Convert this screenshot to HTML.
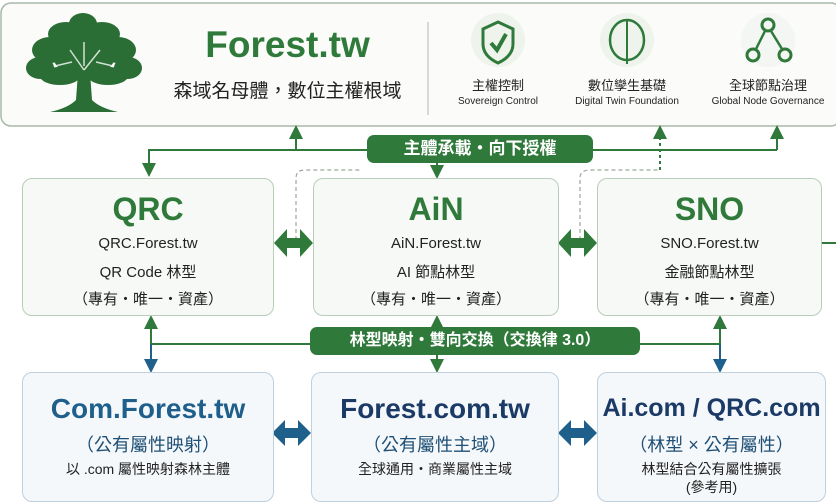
<!DOCTYPE html>
<html><head><meta charset="utf-8"><style>
*{margin:0;padding:0;box-sizing:border-box}
body{width:836px;height:495px;overflow:hidden;background:#fff;font-family:"Liberation Sans","Noto Sans CJK TC",sans-serif;position:relative}
.a{position:absolute}
.box{position:absolute;border-radius:10px}
.g{border:1.5px solid #b9cdb9;background:#f6f9f5}
.b{border:1.5px solid #bfd0de;background:#f5f8fb}
.c{position:absolute;width:100%;text-align:center;left:0}
.banner{position:absolute;background:#2f7a3a;color:#fff;border-radius:7px;text-align:center;font-weight:bold}
</style></head><body>
<svg class="a" style="left:0;top:0" width="836" height="495">
<defs>
<marker id="ag" markerWidth="7" markerHeight="7" refX="3.5" refY="3.5" orient="auto"><path d="M0,0L7,3.5L0,7z" fill="#2f7a3a"/></marker>
<marker id="ab" markerWidth="7" markerHeight="7" refX="3.5" refY="3.5" orient="auto"><path d="M0,0L7,3.5L0,7z" fill="#1f5f8b"/></marker>
</defs>
<rect x="1" y="3" width="840" height="123" rx="10" fill="#fbfcfa" stroke="#a8b8a8" stroke-width="1.5"/>
<line x1="428" y1="22" x2="428" y2="115" stroke="#c8d0c8" stroke-width="1.5"/>
<!-- tree -->
<g fill="#2a6e36">
<ellipse cx="83" cy="24" rx="14" ry="11"/>
<ellipse cx="66" cy="34" rx="18" ry="12"/>
<ellipse cx="102" cy="34" rx="18" ry="12"/>
<ellipse cx="50" cy="50" rx="18" ry="13"/>
<ellipse cx="118" cy="50" rx="18" ry="13"/>
<ellipse cx="40" cy="68" rx="14" ry="11"/>
<ellipse cx="128" cy="68" rx="14" ry="11"/>
<ellipse cx="84" cy="52" rx="32" ry="26"/>
<ellipse cx="60" cy="76" rx="20" ry="9"/>
<ellipse cx="108" cy="76" rx="20" ry="9"/>
<path d="M78,72 L90,72 L92,100 Q100,108 118,112 L50,112 Q68,108 76,100z"/>
</g>
<g stroke="#fbfcfa" stroke-width="1.5" fill="none" opacity="0.8">
<path d="M84,70 L70,50 M84,70 L100,50 M84,66 L84,42 M72,62 L55,66 M96,62 L113,66"/>
</g>
<!-- icons -->
<circle cx="498" cy="40" r="27" fill="#eef3ec"/>
<path d="M498,22 L513,29 L513,44 Q513,56 498,63 Q483,56 483,44 L483,29z" fill="none" stroke="#2f7a3a" stroke-width="3"/>
<path d="M491,43 L497,50 L506,34" fill="none" stroke="#2f7a3a" stroke-width="4"/>
<circle cx="627" cy="40" r="27" fill="#eef3ec"/>
<ellipse cx="627" cy="40" rx="17" ry="20" fill="none" stroke="#2f7a3a" stroke-width="2.5"/>
<line x1="627" y1="20" x2="627" y2="64" stroke="#2f7a3a" stroke-width="2"/>
<circle cx="768" cy="40" r="27" fill="#f3f6f2"/>
<circle cx="768" cy="25" r="6" fill="none" stroke="#2f7a3a" stroke-width="3"/>
<circle cx="753" cy="55" r="6" fill="none" stroke="#2f7a3a" stroke-width="3"/>
<circle cx="785" cy="55" r="6" fill="none" stroke="#2f7a3a" stroke-width="3"/>
<path d="M765,31 L756,49 M771,31 L782,49" stroke="#2f7a3a" stroke-width="2.5"/>
<!-- connectors top -->
<g stroke="#2f7a3a" stroke-width="2" fill="none">
<polyline points="149,170 149,150 777,150"/>
<line x1="296" y1="150" x2="296" y2="132" marker-end="url(#ag)"/>
<line x1="777" y1="150" x2="777" y2="132" marker-end="url(#ag)"/>
<line x1="149" y1="150" x2="149" y2="170" marker-end="url(#ag)"/>
<line x1="437" y1="163" x2="437" y2="172" marker-end="url(#ag)"/>
<line x1="660" y1="170" x2="660" y2="132" stroke-dasharray="3,3" marker-end="url(#ag)"/>
<path d="M296,240 L296,178 Q296,170 305,170 L360,170" stroke-dasharray="4,3" stroke="#9aa89a" stroke-width="1.2"/>
<path d="M580,240 L580,178 Q580,170 590,170 L660,170" stroke-dasharray="4,3" stroke="#9aa89a" stroke-width="1.2"/>
<line x1="822" y1="243" x2="836" y2="243"/>
<!-- middle connectors -->
<line x1="151" y1="344" x2="720" y2="344"/>
<line x1="151" y1="344" x2="151" y2="322" marker-end="url(#ag)"/>
<line x1="437" y1="344" x2="437" y2="322" marker-end="url(#ag)"/>
<line x1="720" y1="344" x2="720" y2="322" marker-end="url(#ag)"/>
<line x1="437" y1="344" x2="437" y2="366" marker-end="url(#ag)"/>
</g>
<g stroke="#1f5f8b" stroke-width="2">
<line x1="151" y1="344" x2="151" y2="366" marker-end="url(#ab)"/>
<line x1="720" y1="344" x2="720" y2="366" marker-end="url(#ab)"/>
</g>
<!-- double arrows -->
<g fill="#2f7a3a">
<path d="M274,243 L287,229 L287,238 L300,238 L300,229 L313,243 L300,257 L300,248 L287,248 L287,257z"/>
<path d="M558,243 L571,229 L571,238 L584,238 L584,229 L597,243 L584,257 L584,248 L571,248 L571,257z"/>
</g>
<g fill="#1f5f8b">
<path d="M272,433 L285,420 L285,428 L298,428 L298,420 L311,433 L298,446 L298,438 L285,438 L285,446z"/>
<path d="M558,433 L571,420 L571,428 L584,428 L584,420 L597,433 L584,446 L584,438 L571,438 L571,446z"/>
</g>
</svg>

<div class="a" style="left:150px;top:24px;width:275px;text-align:center;color:#2f7a3a;font-size:37px;font-weight:bold">Forest.tw</div>
<div class="a" style="left:150px;top:76px;width:275px;text-align:center;color:#222;font-size:19px">森域名母體，數位主權根域</div>
<div class="a" style="left:448px;top:75px;width:100px;text-align:center;font-size:13px;color:#222">主權控制</div>
<div class="a" style="left:438px;top:96px;width:120px;text-align:center;font-size:10px;color:#222">Sovereign Control</div>
<div class="a" style="left:567px;top:75px;width:120px;text-align:center;font-size:13px;color:#222">數位孿生基礎</div>
<div class="a" style="left:557px;top:96px;width:140px;text-align:center;font-size:10px;color:#222">Digital Twin Foundation</div>
<div class="a" style="left:708px;top:75px;width:120px;text-align:center;font-size:13px;color:#222">全球節點治理</div>
<div class="a" style="left:703px;top:96px;width:130px;text-align:center;font-size:10px;color:#222">Global Node Governance</div>

<div class="banner" style="left:367px;top:135px;width:226px;height:28px;line-height:28px;font-size:17px">主體承載・向下授權</div>

<div class="box g" style="left:22px;top:178px;width:252px;height:138px">
<div class="c" style="top:12px;font-size:32px;font-weight:bold;color:#2f7a3a">QRC</div>
<div class="c" style="top:56px;font-size:15px;color:#222">QRC.Forest.tw</div>
<div class="c" style="top:82px;font-size:15px;color:#222">QR Code 林型</div>
<div class="c" style="top:109px;font-size:15px;color:#222">（專有・唯一・資產）</div>
</div>
<div class="box g" style="left:313px;top:178px;width:246px;height:138px">
<div class="c" style="top:12px;font-size:32px;font-weight:bold;color:#2f7a3a">AiN</div>
<div class="c" style="top:56px;font-size:15px;color:#222">AiN.Forest.tw</div>
<div class="c" style="top:82px;font-size:15px;color:#222">AI 節點林型</div>
<div class="c" style="top:109px;font-size:15px;color:#222">（專有・唯一・資產）</div>
</div>
<div class="box g" style="left:597px;top:178px;width:225px;height:138px">
<div class="c" style="top:12px;font-size:32px;font-weight:bold;color:#2f7a3a">SNO</div>
<div class="c" style="top:56px;font-size:15px;color:#222">SNO.Forest.tw</div>
<div class="c" style="top:82px;font-size:15px;color:#222">金融節點林型</div>
<div class="c" style="top:109px;font-size:15px;color:#222">（專有・唯一・資產）</div>
</div>

<div class="banner" style="left:310px;top:327px;width:330px;height:28px;line-height:28px;font-size:16px">林型映射・雙向交換（交換律 3.0）</div>

<div class="box b" style="left:22px;top:372px;width:252px;height:130px">
<div class="c" style="top:20px;font-size:28px;font-weight:bold;color:#1f5f8b">Com.Forest.tw</div>
<div class="c" style="top:58px;font-size:18px;color:#1f4f75">（公有屬性映射）</div>
<div class="c" style="top:86px;font-size:14px;color:#222">以 .com 屬性映射森林主體</div>
</div>
<div class="box b" style="left:311px;top:372px;width:248px;height:130px">
<div class="c" style="top:20px;font-size:28px;font-weight:bold;color:#1b3a66">Forest.com.tw</div>
<div class="c" style="top:58px;font-size:18px;color:#1f4f75">（公有屬性主域）</div>
<div class="c" style="top:86px;font-size:14px;color:#222">全球通用・商業屬性主域</div>
</div>
<div class="box b" style="left:597px;top:372px;width:229px;height:130px">
<div class="c" style="top:21px;font-size:25px;font-weight:bold;color:#1b3a66">Ai.com / QRC.com</div>
<div class="c" style="top:58px;font-size:18px;color:#1f4f75">（林型 × 公有屬性）</div>
<div class="c" style="top:86px;font-size:14px;color:#222">林型結合公有屬性擴張</div>
<div class="c" style="top:104px;font-size:14px;color:#222">(參考用)</div>
</div>
</body></html>
